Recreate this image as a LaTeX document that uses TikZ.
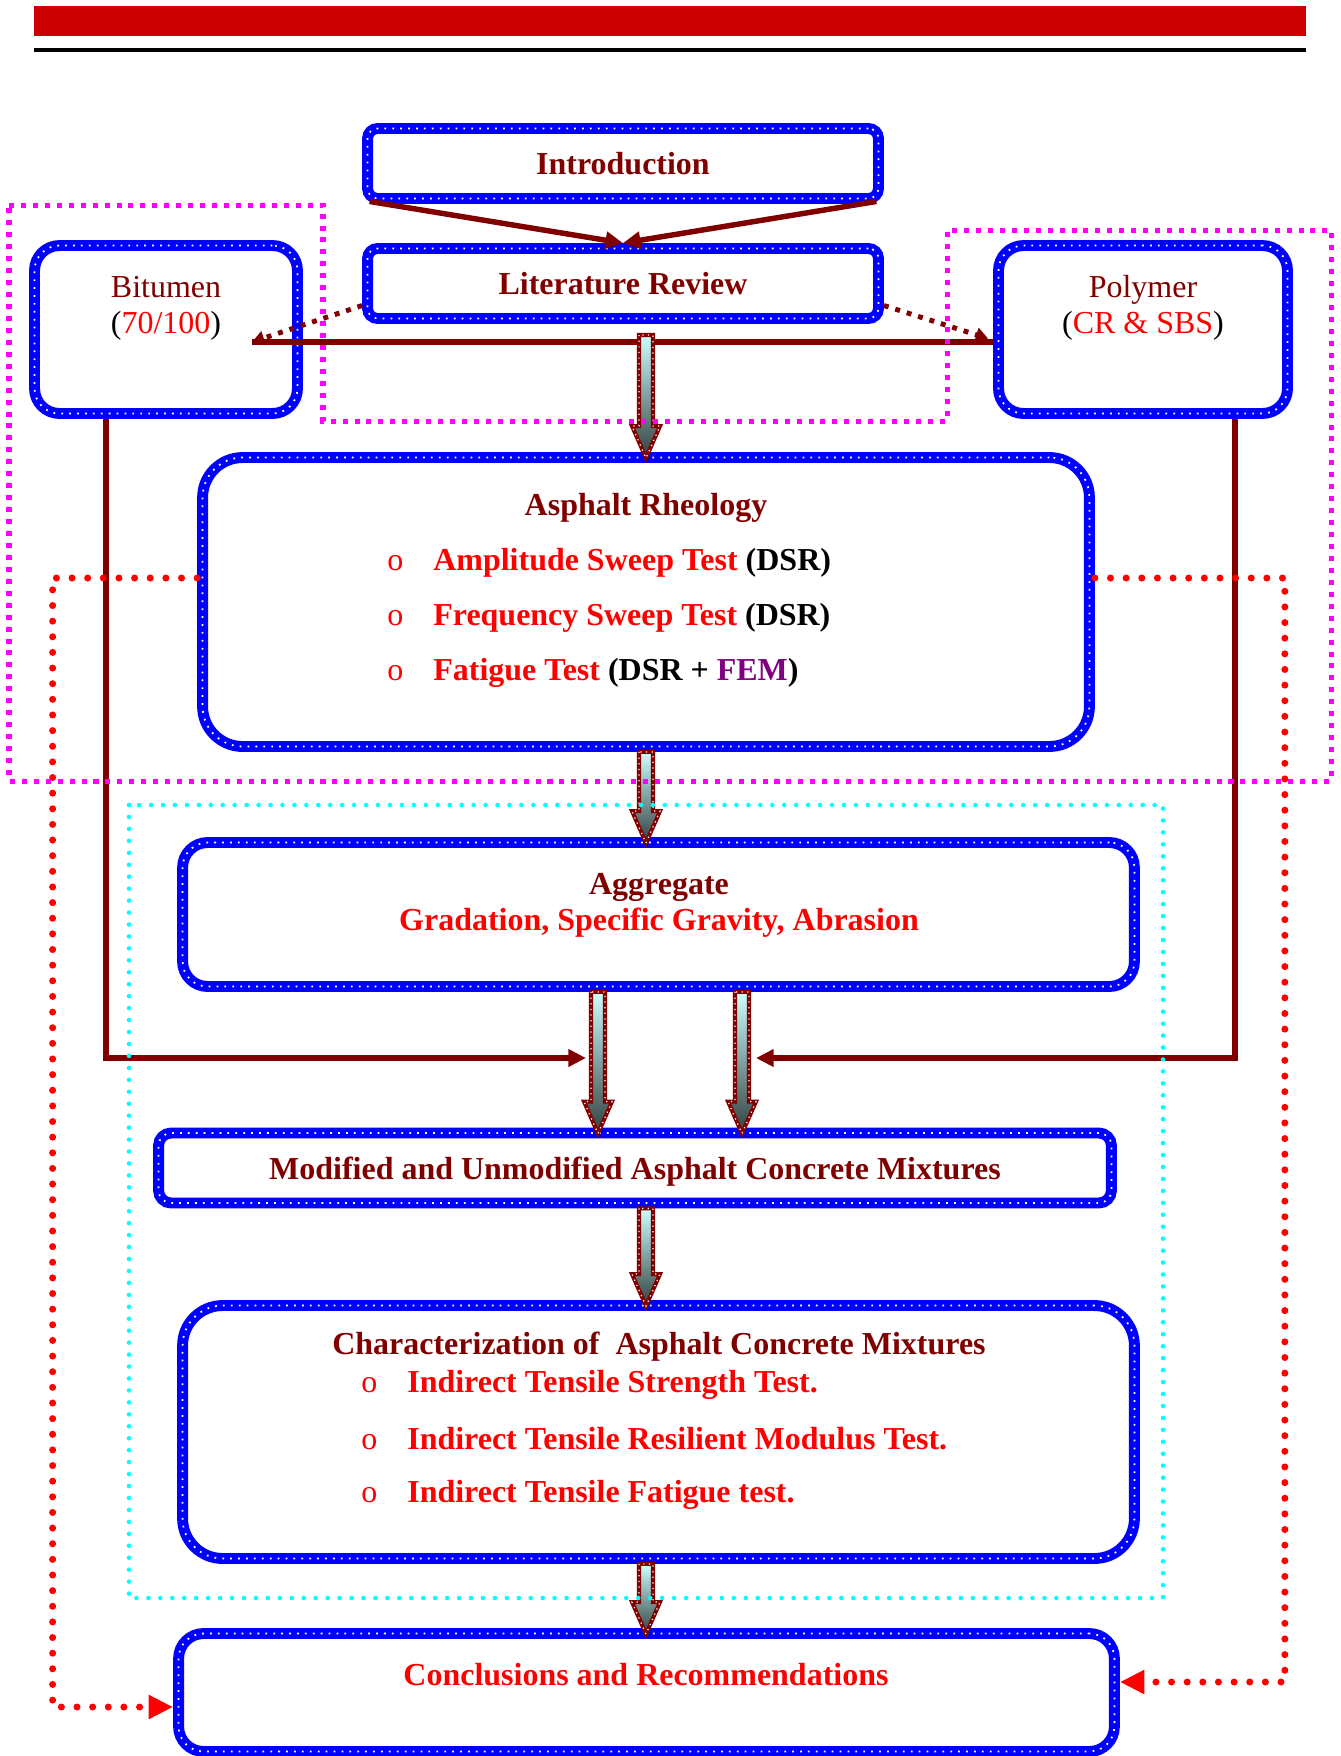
\documentclass[tikz,border=0pt]{standalone}
\usepackage{fontspec}
\setmainfont{Liberation Serif}
\usetikzlibrary{positioning,arrows.meta,calc}
\definecolor{barred}{RGB}{204,0,0}
\definecolor{maroon}{RGB}{128,0,0}
\definecolor{fempurple}{RGB}{128,0,128}
\definecolor{arrtop}{RGB}{205,255,255}
\definecolor{arrbot}{RGB}{50,62,62}
\definecolor{magframe}{RGB}{255,0,255}
\definecolor{cyanframe}{RGB}{0,255,255}
\newcommand{\bul}{\makebox[0.92cm][l]{\mdseries\textcolor{red}{o}}}
\newcommand{\fatarrow}[2]{%
  \path[fatarr] ($(#1)+(-7,0)$) -- ($(#2)+(-7,-26)$) -- ($(#2)+(-14,-26)$) -- ($(#2)+(0,6)$)
    -- ($(#2)+(14,-26)$) -- ($(#2)+(7,-26)$) -- ($(#1)+(7,0)$) -- cycle;}

\begin{document}
\begin{tikzpicture}[x=0.02cm,y=-0.02cm,
                    box/.style={draw=blue,line width=6.2pt,inner sep=0pt,align=center,text=maroon,
                                font=\fontsize{18.2}{20.5}\selectfont\bfseries,
                                postaction={draw=white,line width=1pt,dash pattern=on 1pt off 3.5pt}},
                    txt/.style={align=center,inner sep=0pt,text=maroon,font=\fontsize{18.2}{20.5}\selectfont\bfseries},
                    item/.style={anchor=west,inner sep=0pt,font=\fontsize{18.2}{20.5}\selectfont\bfseries},
                    mline/.style={draw=maroon,line width=3.1pt},
                    mdot/.style={draw=maroon,line width=2.8pt,dash pattern=on 2.8pt off 4pt,-{Triangle[length=7pt,width=8pt]}},
                    reddot/.style={draw=red,line width=4pt,line cap=round,dash pattern=on 0pt off 8.9pt,-{Triangle[length=14pt,width=13pt]}},
                    magdot/.style={draw=magframe,line width=2.85pt,dash pattern=on 2.85pt off 3.95pt},
                    cyandot/.style={draw=cyanframe,line width=2.6pt,line cap=round,dash pattern=on 0pt off 6.8pt},
                    fatarr/.style={draw=maroon,line width=2.3pt,top color=arrtop,bottom color=arrbot,
                                   postaction={draw=white,line width=0.7pt,dash pattern=on 0.7pt off 2.5pt}},
                    >={Triangle[length=10pt,width=9.5pt]}]
  \useasboundingbox (0,0) rectangle (1341,1756);
  % top rule
  \fill[barred] (34,6) rectangle (1306,36);
  \fill[black] (34,48) rectangle (1306,52);

  % boxes
  \node[box,rounded corners=0.2cm,minimum width=10.22cm,minimum height=1.4cm] (intro) at (623,163.5) {Introduction};
  \node[box,rounded corners=0.2cm,minimum width=10.22cm,minimum height=1.4cm] (lit) at (623,283.5) {Literature Review};
  \node[box,rounded corners=0.5cm,minimum width=5.26cm,minimum height=3.36cm] (bit) at (166,329.5) {};
  \node[box,rounded corners=0.5cm,minimum width=5.78cm,minimum height=3.36cm] (pol) at (1143,329.5) {};
  \node[box,rounded corners=0.8cm,minimum width=17.74cm,minimum height=5.78cm] (rheo) at (646,602) {};
  \node[box,rounded corners=0.5cm,minimum width=19.04cm,minimum height=2.88cm] (agg) at (658.5,914.5) {};
  \node[box,rounded corners=0.25cm,minimum width=19.06cm,minimum height=1.4cm,text depth=0pt] (mix) at (635,1168) {Modified and Unmodified Asphalt Concrete Mixtures};
  \node[box,rounded corners=0.8cm,minimum width=19.04cm,minimum height=5.06cm] (char) at (658.5,1432) {};
  \node[box,rounded corners=0.5cm,minimum width=18.72cm,minimum height=2.36cm] (concl) at (646.5,1692.5) {};

  % texts
  \node[txt] (tbit) at (166,308) {\mdseries Bitumen\\\mdseries\textcolor{black}{(}\textcolor{red}{70/100}\textcolor{black}{)}};
  \node[txt] (tpol) at (1143,308) {\mdseries Polymer\\\mdseries\textcolor{black}{(}\textcolor{red}{CR \& SBS}\textcolor{black}{)}};
  \node[txt] (trheo) at (646,508) {Asphalt Rheology};
  \node[item] (r1) at (387,563) {\bul\textcolor{red}{Amplitude Sweep Test} (DSR)};
  \node[item] (r2) at (387,618) {\bul\textcolor{red}{Frequency Sweep Test} (DSR)};
  \node[item] (r3) at (387,673) {\bul\textcolor{red}{Fatigue Test} (DSR + \textcolor{fempurple}{FEM})};
  \node[txt] (tagg) at (659,905) {Aggregate\\\textcolor{red}{Gradation, Specific Gravity, Abrasion}};
  \node[txt] (tchar) at (659,1347) {Characterization of\ \ Asphalt Concrete Mixtures};
  \node[item,text=red] (c1) at (361,1385) {\bul Indirect Tensile Strength Test.};
  \node[item,text=red] (c2) at (361,1439) {\bul Indirect Tensile Resilient Modulus Test.};
  \node[item,text=red] (c3) at (361,1495) {\bul Indirect Tensile Fatigue test.};
  \node[txt,text=red] (tconcl) at (646,1675) {Conclusions and Recommendations};

  % connectors
  \draw[mline,->] ([xshift=0.15cm,yshift=0.05cm]intro.south west) -- (lit.north);
  \draw[mline,->] ([xshift=-0.15cm,yshift=0.05cm]intro.south east) -- (lit.north);
  \coordinate (bitin) at (252,342);
  \draw[mline] (bitin) -- (bitin -| pol.west);
  \draw[mdot] ([yshift=-0.44cm]lit.west) -- (bitin);
  \draw[mdot] ([yshift=-0.44cm]lit.east) -- ([xshift=-0.1cm,yshift=-0.18cm]pol.west);

  \coordinate (hub) at (646,335);
  \coordinate (g1) at ($(agg.south)+(-60.5,0)$);
  \coordinate (g2) at ($(agg.south)+(83.5,0)$);
  \fatarrow{hub}{hub |- rheo.north}
  \fatarrow{rheo.south}{rheo.south |- agg.north}
  \fatarrow{g1}{g1 |- mix.north}
  \fatarrow{g2}{g2 |- mix.north}
  \fatarrow{hub |- mix.south}{hub |- char.north}
  \fatarrow{hub |- char.south}{hub |- concl.north}

  \coordinate (ml) at (586,1058);
  \coordinate (mr) at (756,1058);
  \draw[mline,->] ([xshift=-1.2cm]bit.south) |- (ml);
  \draw[mline,->] ([xshift=1.84cm]pol.south) |- (mr);

  \draw[reddot] ([yshift=0.48cm]rheo.west) -- ++(-144.5,0) |- ([yshift=-0.29cm]concl.west);
  \draw[reddot] ([yshift=0.48cm]rheo.east) -- ++(190,0) |- ([yshift=0.21cm]concl.east);

  % frames
  \draw[magdot] (9,205) -- (323,205) -- (323,421) -- (947,421) -- (947,230) -- (1331,230) -- (1331,781) -- (9,781) -- cycle;
  \draw[cyandot] (129,805) rectangle (1163,1598);
\end{tikzpicture}
\end{document}
